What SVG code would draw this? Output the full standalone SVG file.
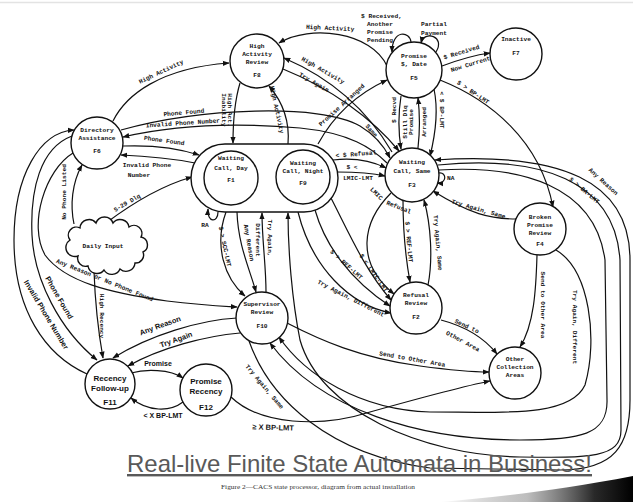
<svg xmlns="http://www.w3.org/2000/svg" width="633" height="502" viewBox="0 0 633 502">
<defs>
<marker id="ah" viewBox="0 0 10 10" refX="9" refY="5" markerWidth="7" markerHeight="7" markerUnits="userSpaceOnUse" orient="auto"><path d="M0,1.2 L10,5 L0,8.8 z" fill="#111"/></marker>
<linearGradient id="smudge" x1="0" y1="0" x2="1" y2="0">
<stop offset="0" stop-color="#000" stop-opacity="0"/>
<stop offset="0.45" stop-color="#444" stop-opacity="0.35"/>
<stop offset="0.8" stop-color="#111" stop-opacity="0.9"/>
<stop offset="1" stop-color="#000" stop-opacity="1"/>
</linearGradient>
</defs>
<style>
.n{fill:#fff;stroke:#111;stroke-width:1.4}
.e{fill:none;stroke:#111;stroke-width:1.2}
.a{marker-end:url(#ah)}
.t{font-family:"Liberation Mono","DejaVu Sans Mono",monospace;font-weight:bold;font-size:6.2px;fill:#111;text-anchor:middle}
.s{text-anchor:start}
.h{font-family:"Liberation Sans",Arial,sans-serif;font-weight:bold;font-size:7.5px;fill:#111;text-anchor:middle}
.nl{font-family:"Liberation Sans",Arial,sans-serif;font-weight:bold;font-size:8px;fill:#111;text-anchor:middle}
</style>
<rect width="633" height="502" fill="#fff"/>
<line x1="0" y1="2.5" x2="633" y2="2.5" stroke="#e3e3e3" stroke-width="1.5"/>

<g id="connectors">
<path class="e a" d="M 113,121 C 126,95 160,68 229,63"/>
<path class="e a" d="M 387,66 C 372,32 310,24 279,43"/>
<path class="e a" d="M 392,152 C 372,118 340,82 284,58"/>
<path class="e a" d="M 283,69 C 330,88 372,118 399,151"/>
<path class="e a" d="M 240,83 C 234,103 233,125 233,143"/>
<path class="e a" d="M 288,144 C 290,120 281,100 269,86"/>
<path class="e a" d="M 318,144 C 330,122 350,97 387,80"/>
<path class="e a" d="M 121,130 C 200,108 320,103 360,126 C 375,135 384,146 390,158"/>
<path class="e a" d="M 387,163 C 372,148 350,133 300,128 C 230,122 170,126 123,137"/>
<path class="e a" d="M 123,146 C 150,145 178,148 199,155"/>
<path class="e a" d="M 195,163 C 175,159 145,156 121,155"/>
<path class="e a" d="M 74,224 C 70,205 72,183 82,165"/>
<path class="e a" d="M 106,223 C 130,205 160,186 192,177"/>
<path class="e a" d="M 94,271 C 95,300 98,330 103,358"/>
<path class="e a" d="M 73,153 C 45,170 28,225 45,255 C 65,282 110,293 167,301 C 200,305 220,306 237,307"/>
<path class="e a" d="M 72,136 C 40,148 30,190 32,235 C 34,280 60,330 97,360"/>
<path class="e a" d="M 87,374 C 45,355 14,310 14,240 C 14,175 40,132 74,130"/>
<path class="e a" d="M 237,318 C 200,320 150,335 113,358"/>
<path class="e a" d="M 240,333 C 205,336 160,348 128,366"/>
<path class="e a" d="M 131,373 C 145,369 170,369 183,378"/>
<path class="e a" d="M 183,402 C 170,412 148,412 131,398"/>
<path class="e a" d="M 231,397 C 260,425 320,428 370,412 C 420,398 460,387 490,381"/>
<path class="e a" d="M 287,323 C 320,340 360,358 420,366 C 450,370 470,372 489,372"/>
<path class="e a" d="M 441,320 C 460,325 482,335 497,354"/>
<path class="e a" d="M 537,255 C 536,290 534,325 520,347"/>
<path class="e a" d="M 556,250 C 590,270 598,340 585,385 C 570,418 500,412 430,412 C 360,410 305,375 279,337"/>
<path class="e a" d="M 439,170 C 520,165 595,185 605,260 L 607,400 C 608,435 580,440 520,440 C 420,440 320,410 270,343"/>
<path class="e a" d="M 438,165 C 540,155 615,180 620,260 L 621,430 C 621,458 590,458 520,457 C 420,455 320,410 300,340 C 292,300 288,250 288,213"/>
<path class="e a" d="M 249,341 C 270,400 330,455 430,468 L 560,470 C 615,470 630,445 630,400 L 630,260 C 630,180 560,152 435,160"/>
<path class="e a" d="M 440,80 C 490,100 540,140 553,207"/>
<path class="e a" d="M 442,66 C 458,60 475,55 490,53"/>
<path class="e a" d="M 436,52 C 446,36 424,30 421,43"/>
<path class="e a" d="M 411,42 C 410,31 392,29 392,52"/>
<path class="e a" d="M 401,96 C 398,115 398,130 401,149"/>
<path class="e a" d="M 418,148 C 420,130 420,115 418,98"/>
<path class="e a" d="M 434,89 C 438,108 436,132 430,156"/>
<path class="e a" d="M 517,219 C 490,219 470,214 433,191"/>
<path class="e a" d="M 439,173 C 447,172 447,184 437,183"/>
<path class="e a" d="M 333,160 C 350,158 370,160 386,168"/>
<path class="e a" d="M 337,172 C 355,172 372,173 385,176"/>
<path class="e a" d="M 391,193 C 362,222 355,262 394,294"/>
<path class="e a" d="M 331,198 C 350,235 365,270 391,300"/>
<path class="e a" d="M 315,210 C 325,245 350,280 390,306"/>
<path class="e a" d="M 298,212 C 312,268 350,305 391,313"/>
<path class="e a" d="M 403,200 C 403,230 406,260 410,282"/>
<path class="e a" d="M 428,285 C 433,260 431,225 424,200"/>
<path class="e a" d="M 226,212 C 214,245 224,278 245,296"/>
<path class="e a" d="M 237,212 C 238,245 250,270 256,292"/>
<path class="e a" d="M 266,292 C 266,265 262,240 262,213"/>
<path class="e a" d="M 218,212 C 218,223 207,223 208,209"/>
<path class="e a" d="M 280,162 L 255,162"/>
<path class="e a" d="M 256,188 L 277,188"/>

<text class="t" transform="translate(162,73.5) rotate(-25)">High Activity</text>
<text class="t" transform="translate(330,30) rotate(3)">High Activity</text>
<text class="t" transform="translate(322,72) rotate(30)">High Activity</text>
<text class="t" transform="translate(313,84) rotate(30)">Try Again</text>
<text class="t" transform="translate(370,132) rotate(50)">Same</text>
<text class="t" transform="translate(222,110) rotate(90)">Inability</text>
<text class="t" transform="translate(228,110) rotate(90)">High Act.</text>
<text class="t" transform="translate(275,110) rotate(78)">High Activity</text>
<text class="t" transform="translate(343,106.5) rotate(-42)">Promise Arranged</text>
<text class="t" transform="translate(184,114.5) rotate(-5)">Phone Found</text>
<text class="t" transform="translate(183,125) rotate(-4)">Invalid Phone Number</text>
<text class="t" transform="translate(164,142.5) rotate(8)">Phone Found</text>
<text class="t" transform="translate(147,167)">Invalid Phone</text>
<text class="t" transform="translate(139,176.5)">Number</text>
<text class="t" transform="translate(66,192) rotate(-90)">No Phone Listed</text>
<text class="t" transform="translate(128,204.5) rotate(-30)">5-29 Dlq</text>
<text class="t" transform="translate(100,316) rotate(90)">High Recency</text>
<text class="t" transform="translate(104,282) rotate(22)">Any Reason or No Phone Found</text>
<text class="h" transform="translate(57,299) rotate(60)">Phone Found</text>
<text class="h" transform="translate(44,316) rotate(59)">Invalid Phone Number</text>
<text class="h" transform="translate(161,328) rotate(-20)">Any Reason</text>
<text class="h" transform="translate(177,342) rotate(-20)">Try Again</text>
<text class="h" style="font-size:7px" transform="translate(158,366)">Promise</text>
<text class="h" style="font-size:7px" transform="translate(163,418)">&lt; X BP-LMT</text>
<text class="h" transform="translate(273,430) rotate(2)">≥ X BP-LMT</text>
<text class="t" transform="translate(412,361) rotate(10)">Send to Other Area</text>
<text class="t" transform="translate(466,328) rotate(25)">Send to</text>
<text class="t" transform="translate(462,343) rotate(28)">Other Area</text>
<text class="t" transform="translate(541,305) rotate(90)">Send to Other Area</text>
<text class="t" transform="translate(573,327) rotate(90)">Try Again, Different</text>
<text class="t" transform="translate(583,192) rotate(40)">$ &gt; BA-LMT</text>
<text class="t" transform="translate(602,183) rotate(42)">Any Reason</text>
<text class="t" transform="translate(263,388) rotate(50)">Try Again, Same</text>
<text class="t" transform="translate(472,94) rotate(34)">$ &gt; BP-LMT</text>
<text class="t" transform="translate(462,54) rotate(-17)">$ Received</text>
<text class="t" transform="translate(471,66) rotate(-17)">Now Current</text>
<text class="t" x="434" y="26">Partial</text>
<text class="t" x="434" y="35">Payment</text>
<text class="t s" x="361" y="18">$ Received,</text>
<text class="t s" x="367" y="26">Another</text>
<text class="t s" x="367" y="34">Promise</text>
<text class="t s" x="367" y="41.5">Pending</text>
<text class="t" transform="translate(396,110) rotate(-90)">$ Recvd</text>
<text class="t" transform="translate(407,122) rotate(-90)">Still Dlq</text>
<text class="t" transform="translate(413,122) rotate(-90)">Promise</text>
<text class="t" transform="translate(426,122) rotate(-90)">Arranged</text>
<text class="t" transform="translate(440,110) rotate(90)">&lt; $ BP-LMT</text>
<text class="t" transform="translate(478,211) rotate(16)">Try Again, Same</text>
<text class="t s" x="447" y="180">NA</text>
<text class="t" transform="translate(356,156) rotate(-4)">&lt; $ Refusal</text>
<text class="t" x="352" y="169">$ &lt;</text>
<text class="t" x="358" y="180">LMIC-LMT</text>
<text class="t" transform="translate(375,195) rotate(45)">LMIC</text>
<text class="t" transform="translate(398,209) rotate(22)">Refusal</text>
<text class="t" transform="translate(372,274) rotate(55)">$ &lt; LMIC-LMT</text>
<text class="t" transform="translate(345,266) rotate(42)">$ &gt; REF-LMT</text>
<text class="t" transform="translate(350,300) rotate(27)">Try Again, Different</text>
<text class="t" transform="translate(407,242) rotate(85)">$ &gt; REF-LMT</text>
<text class="t" transform="translate(436,243) rotate(85)">Try Again, Same</text>
<text class="t" transform="translate(223,247) rotate(78)">$ &gt; SCC-LMT</text>
<text class="t" transform="translate(247,243) rotate(80)">Any Reason</text>
<text class="t" transform="translate(256,240) rotate(90)">Different</text>
<text class="t" transform="translate(268,238) rotate(90)">Try Again,</text>
<text class="t" x="205" y="227">RA</text>
</g>

<g id="F1F9-group"><rect class="n" x="191" y="144" width="147" height="68" rx="34" ry="34"/></g>
<g id="F8"><circle class="n" cx="257" cy="61" r="27"/><text class="t" x="257" y="47.5">High</text><text class="t" x="257" y="55.5">Activity</text><text class="t" x="257" y="64">Review</text><text class="t" x="257" y="77">F8</text></g>
<g id="F5"><circle class="n" cx="414" cy="70" r="28"/><text class="t" x="414" y="57.5">Promise</text><text class="t" x="414" y="66">$, Date</text><text class="t" x="414" y="80">F5</text></g>
<g id="F7"><circle class="n" cx="516" cy="54" r="26"/><text class="t" x="516" y="41">Inactive</text><text class="t" x="516" y="55">F7</text></g>
<g id="F6"><circle class="n" cx="97" cy="143" r="26"/><text class="t" x="97" y="132">Directory</text><text class="t" x="97" y="140">Assistance</text><text class="t" x="97" y="153">F6</text></g>
<g id="F1"><circle class="n" cx="231" cy="178" r="27"/><text class="t" x="231" y="160">Waiting</text><text class="t" x="231" y="170">Call, Day</text><text class="t" x="231" y="182">F1</text></g>
<g id="F9"><circle class="n" cx="303" cy="177" r="27"/><text class="t" x="303" y="165">Waiting</text><text class="t" x="303" y="173">Call, Night</text><text class="t" x="303" y="185">F9</text></g>
<g id="F3"><circle class="n" cx="412" cy="175" r="27"/><text class="t" x="412" y="164">Waiting</text><text class="t" x="412" y="173">Call, Same</text><text class="t" x="412" y="187">F3</text></g>
<g id="F4"><circle class="n" cx="540" cy="229" r="26"/><text class="t" x="540" y="219">Broken</text><text class="t" x="540" y="227">Promise</text><text class="t" x="540" y="235">Review</text><text class="t" x="540" y="246">F4</text></g>
<g id="F2"><circle class="n" cx="416" cy="308" r="26"/><text class="t" x="416" y="297">Refusal</text><text class="t" x="416" y="305">Review</text><text class="t" x="416" y="319">F2</text></g>
<g id="F13"><circle class="n" cx="515" cy="373" r="26"/><text class="t" x="515" y="361">Other</text><text class="t" x="515" y="369">Collection</text><text class="t" x="515" y="377">Areas</text></g>
<g id="F10"><circle class="n" cx="262" cy="318" r="26"/><text class="t" x="262" y="306">Supervisor</text><text class="t" x="262" y="314">Review</text><text class="t" x="262" y="328">F10</text></g>
<g id="F11"><circle class="n" cx="110" cy="384" r="25"/><text class="nl" x="110" y="381">Recency</text><text class="nl" x="110" y="391">Follow-up</text><text class="nl" x="110" y="405">F11</text></g>
<g id="F12"><circle class="n" cx="206" cy="390" r="26"/><text class="nl" x="206" y="384">Promise</text><text class="nl" x="206" y="394">Recency</text><text class="nl" x="206" y="410">F12</text></g>
<g id="DailyInput"><path class="n" d="M 70,240 a 8,8 0 0 1 10,-12 a 9,9 0 0 1 16,-5 a 9,9 0 0 1 17,0 a 9,9 0 0 1 16,4 a 8,8 0 0 1 12,10 a 8,8 0 0 1 2,15 a 8,8 0 0 1 -8,11 a 9,9 0 0 1 -15,6 a 9,9 0 0 1 -16,1 a 9,9 0 0 1 -16,-4 a 8,8 0 0 1 -10,-10 a 9,9 0 0 1 -8,-16 z"/><text class="t" x="103" y="248">Daily Input</text></g>

<path d="M 440,502 C 500,497 560,490 633,476 L 633,502 Z" fill="url(#smudge)"/>
<text x="127" y="472" font-family="'Liberation Sans',Arial,sans-serif" font-size="24" fill="#595959" text-decoration="underline" textLength="465" lengthAdjust="spacingAndGlyphs">Real-live Finite State Automata in Business!</text>
<text x="221" y="489" font-family="'Liberation Serif','Times New Roman',serif" font-size="6.5" fill="#333" textLength="194" lengthAdjust="spacingAndGlyphs">Figure 2—CACS state processor, diagram from actual installation</text>
</svg>
